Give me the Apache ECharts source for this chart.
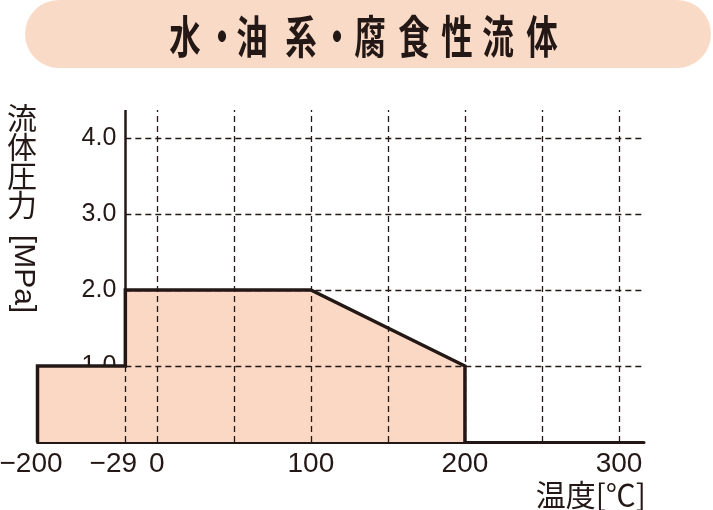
<!DOCTYPE html>
<html><head><meta charset="utf-8">
<script src="https://cdn.jsdelivr.net/npm/echarts@6/dist/echarts.min.js"></script>
<style>html,body{margin:0;padding:0;background:#fff}#c{width:713px;height:510px}</style>
</head><body><div id="c"></div>
<script>
// ---- data ----
const temperatures = [-200, -200, -29, -29, 100, 200, 200];
const pressures    = [0, 1.0, 1.0, 2.0, 2.0, 1.0, 0];
const xTickTemps   = [-200, -29, 0, 100, 200, 300];
const xTickLabels  = ['−200', '−29', '0', '100', '200', '300'];
const xGridTemps   = [0, 50, 100, 150, 200, 250, 300];
const yTicks       = [1, 2, 3, 4];
const yTickLabels  = ['1.0', '2.0', '3.0', '4.0'];
const titleText    = '水・油系・腐食性流体';
const yNameCJK     = '流体圧力';
const yNameUnit    = '[MPa]';
const xName        = '温度[℃]';

// broken temperature axis (the reference compresses −200…−29 and −29…0)
function toU(t) {
  if (t >= 0) return 20.4 + t;
  if (t >= -29) return 20.4 * (t + 29) / 29;
  return -57 * (-29 - t) / 171;
}
const XMIN = toU(-200), XMAX = 336.6, YMAX = 4.368;
const INK = '#231815', FILL = '#FAD8C4';
const GRID_LEFT = 37.5, GRID_RIGHT = 69;
const PX_PER_U = (713 - GRID_LEFT - GRID_RIGHT) / (XMAX - XMIN);

const seriesData = temperatures.map((t, i) => [toU(t), pressures[i]]);

const dash = { type: [6, 4], width: 1.3, color: INK };
const gridLines = [];
yTicks.forEach(y => gridLines.push([{ coord: [0, y] }, { coord: [XMAX, y] }]));
xGridTemps.forEach(t => gridLines.push([{ coord: [toU(t), 0] }, { coord: [toU(t), YMAX] }]));
gridLines.push([{ coord: [0, 0] }, { coord: [0, 1] }]);
gridLines.push([{ coord: [0, 2], lineStyle: { type: 'solid', width: 2.5, color: INK } }, { coord: [0, YMAX] }]);

function xLabel(v) {
  for (let i = 0; i < xTickTemps.length; i++) {
    if (Math.abs(toU(xTickTemps[i]) - v) < 0.01) {
      const s = xTickLabels[i];
      if (xTickTemps[i] === -29) return '{n29|' + s + '}';
      if (xTickTemps[i] === -200) return '{n200|' + s + '}';
      return s;
    }
  }
  return '';
}
function yLabel(v) {
  const i = yTicks.indexOf(v);
  return i >= 0 ? yTickLabels[i] : '';
}

// title characters, placed individually (reference uses wide tracking)
const titleCenters = [185, 222, 252, 301, 337, 370, 414, 457, 498, 542];
const titleEls = Array.from(titleText).map((ch, i) => ({
  type: 'text', x: titleCenters[i], y: 37, scaleX: 0.70, z: 10,
  style: { text: ch, fill: INK, fontSize: 45, fontWeight: 'bold',
           fontFamily: 'Noto Sans CJK JP', textAlign: 'center', textVerticalAlign: 'middle', verticalAlign: 'middle' }
}));

const labelFont = 'Liberation Sans';
const chart = echarts.init(document.getElementById('c'), null, { renderer: 'canvas' });
chart.setOption({
  animation: false,
  backgroundColor: '#fff',
  grid: { left: GRID_LEFT, right: GRID_RIGHT, top: 110, bottom: 68, containLabel: false, outerBoundsMode: 'none' },
  xAxis: {
    type: 'value', min: XMIN, max: XMAX,
    axisLine: { show: true, onZero: true, lineStyle: { color: INK, width: 3 } },
    axisTick: { show: false },
    splitLine: { show: false },
    axisLabel: {
      customValues: xTickTemps.map(toU),
      formatter: xLabel,
      color: INK, fontSize: 28, fontFamily: labelFont, margin: 8,
      showMinLabel: true, showMaxLabel: true, hideOverlap: false,
      rich: {
        n29:  { color: INK, fontSize: 28, fontFamily: labelFont, padding: [0, 24, 0, 0] },
        n200: { color: INK, fontSize: 28, fontFamily: labelFont, padding: [0, 13, 0, 0] }
      }
    }
  },
  yAxis: {
    type: 'value', min: 0, max: YMAX, interval: 1,
    offset: -(0 - XMIN) * PX_PER_U,
    axisLine: { show: false, onZero: false },
    axisTick: { show: false },
    splitLine: { show: false },
    axisLabel: { formatter: yLabel, color: INK, fontSize: 25, fontFamily: labelFont, margin: 9, showMaxLabel: false }
  },
  graphic: { elements: [
    { type: 'rect', shape: { x: 25, y: 0, width: 686, height: 68, r: 34 }, style: { fill: '#F9DAC7' }, z: 5 },
    ...titleEls,
    { type: 'text', x: 22, y: 103, style: { text: Array.from(yNameCJK).join('\n'), fill: INK, fontSize: 30, lineHeight: 29,
        fontFamily: 'Noto Sans CJK JP', textAlign: 'center', textVerticalAlign: 'top', verticalAlign: 'top' } },
    { type: 'text', x: 23, y: 274, rotation: -Math.PI / 2, style: { text: yNameUnit, fill: INK, fontSize: 30,
        fontFamily: 'Liberation Sans', textAlign: 'center', textVerticalAlign: 'middle', verticalAlign: 'middle' } },
    { type: 'text', x: 646, y: 495, style: { text: xName, fill: INK, fontSize: 30,
        fontFamily: 'Noto Sans CJK JP', textAlign: 'right', textVerticalAlign: 'middle', verticalAlign: 'middle' } }
  ] },
  series: [
    { type: 'line', data: seriesData, symbol: 'none', z: 1, silent: true,
      lineStyle: { width: 0, opacity: 0 }, areaStyle: { color: FILL, opacity: 1 } },
    { type: 'line', data: seriesData, symbol: 'none', z: 2, silent: true,
      lineStyle: { width: 0, opacity: 0 },
      markLine: { silent: true, symbol: ['none', 'none'], label: { show: false }, lineStyle: dash, data: gridLines } },
    { type: 'line', data: seriesData, symbol: 'none', z: 3, silent: true, clip: false,
      lineStyle: { width: 3.5, color: INK, join: 'miter' } }
  ]
});
</script>
</body></html>
